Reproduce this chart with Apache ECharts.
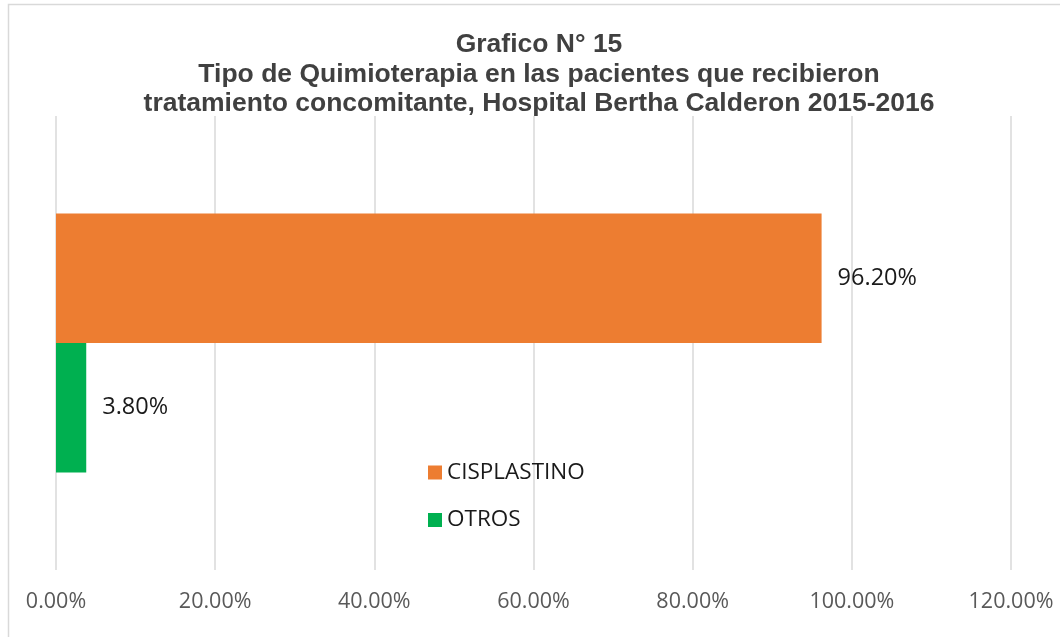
<!DOCTYPE html>
<html><head><meta charset="utf-8">
<script src="https://cdn.jsdelivr.net/npm/echarts@6/dist/echarts.min.js"></script>
<style>html,body{margin:0;padding:0;background:#fff}#c{width:1060px;height:637px}</style>
</head><body><div id="c"></div>
<script>
const titleLines = ["Grafico N° 15", "Tipo de Quimioterapia en las pacientes que recibieron", "tratamiento concomitante, Hospital Bertha Calderon 2015-2016"];
const categories = [""];
const seriesNames = ["CISPLASTINO", "OTROS"];
const seriesValues = [[96.2], [3.8]];
const seriesColors = ["#ED7D31", "#00B050"];
const xTicks = [0, 20, 40, 60, 80, 100, 120];

const chart = echarts.init(document.getElementById('c'));
chart.setOption({
  animation: false,
  title: {
    text: titleLines.join('\n'),
    left: 534, top: 25, textAlign: 'center',
    textStyle: {fontFamily: 'Liberation Sans', fontWeight: 'bold', fontSize: 26.5, lineHeight: 29.5, color: '#404040'}
  },
  graphic: [{type: 'polyline', shape: {points: [[8.5, 640], [8.5, 4.5], [1065, 4.5]]}, style: {stroke: '#d9d9d9', lineWidth: 1.5, fill: null}}],
  legend: {
    orient: 'vertical', left: 423, top: 456,
    itemWidth: 14, itemHeight: 14, itemGap: 24.5, icon: 'rect',
    textStyle: {fontFamily: 'Open Sans', fontSize: 22.5, color: '#1a1a1a', lineHeight: 22},
    data: seriesNames
  },
  grid: {left: 56, right: 49, top: 116, bottom: 67, containLabel: false},
  xAxis: {
    type: 'value', min: xTicks[0], max: xTicks[xTicks.length - 1], interval: 20,
    axisLine: {show: false}, axisTick: {show: false},
    splitLine: {show: true, lineStyle: {color: '#d9d9d9', width: 1.5}},
    axisLabel: {margin: 21, fontFamily: 'Open Sans', fontSize: 21.5, color: '#595959', formatter: v => v.toFixed(2) + '%'}
  },
  yAxis: {type: 'category', data: categories, inverse: true, axisLine: {show: false}, axisTick: {show: false}, axisLabel: {show: false}},
  series: seriesNames.map((n, i) => ({
    name: n, type: 'bar', data: seriesValues[i], barGap: '0%', barCategoryGap: '43%',
    itemStyle: {color: seriesColors[i]},
    label: {show: true, position: 'right', distance: 16, fontFamily: 'Open Sans', fontSize: 23.5, color: '#1a1a1a', formatter: p => p.value.toFixed(2) + '%'}
  }))
});
</script></body></html>
